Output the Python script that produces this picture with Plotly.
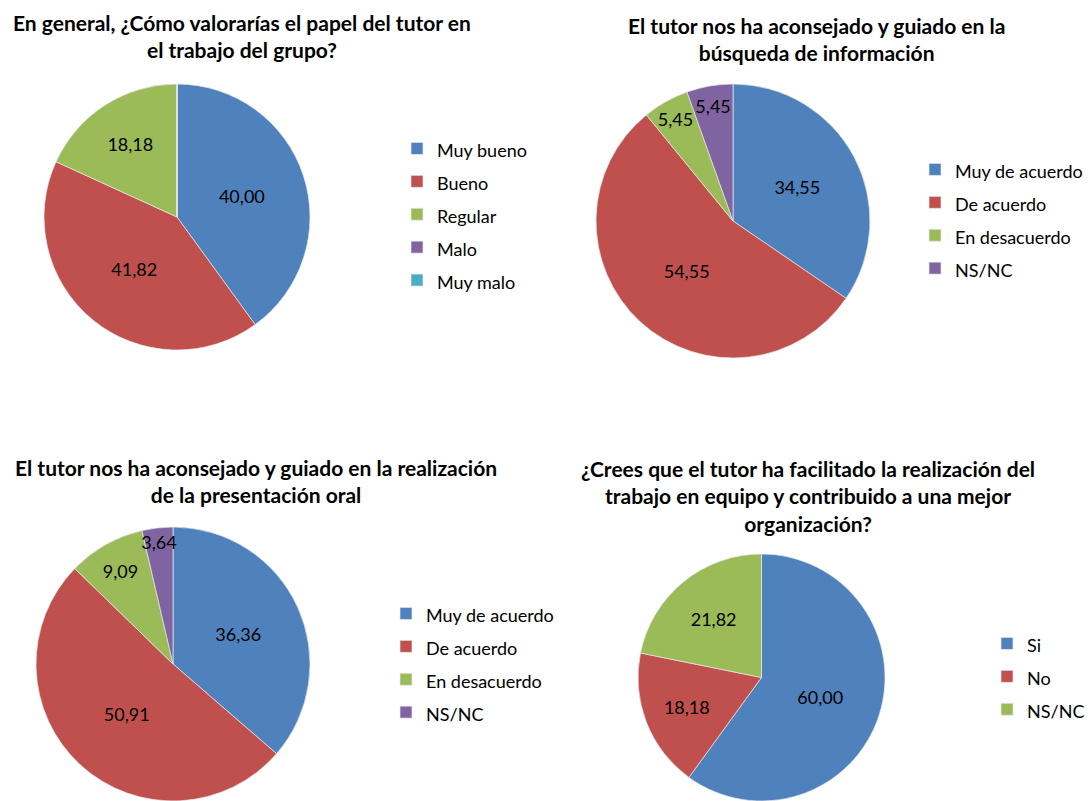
import plotly.graph_objects as go

W, H = 1088, 801

colors = ["#4F81BD", "#C0504D", "#9BBB59", "#8064A2", "#4BACC6"]

# Chart 1
title1 = "En general, ¿Cómo valorarías el papel del tutor en<br>el trabajo del grupo?"
labels1 = ["Muy bueno", "Bueno", "Regular", "Malo", "Muy malo"]
values1 = [40.00, 41.82, 18.18, 0, 0]

# Chart 2
title2 = "El tutor nos ha aconsejado y guiado en la<br>búsqueda de información"
labels2 = ["Muy de acuerdo", "De acuerdo", "En desacuerdo", "NS/NC"]
values2 = [34.55, 54.55, 5.45, 5.45]

# Chart 3
title3 = "El tutor nos ha aconsejado y guiado en la realización<br>de la presentación oral"
labels3 = ["Muy de acuerdo", "De acuerdo", "En desacuerdo", "NS/NC"]
values3 = [36.36, 50.91, 9.09, 3.64]

# Chart 4
title4 = "¿Crees que el tutor ha facilitado la realización del<br>trabajo en equipo y contribuido a una mejor<br>organización?"
labels4 = ["Si", "No", "NS/NC"]
values4 = [60.00, 18.18, 21.82]

FONT = "Lato"


def fmt(v):
    return "" if v == 0 else f"{v:.2f}".replace(".", ",")


def px(x):
    return x / W


def py(y):
    return 1 - y / H


def px_dom(x0, x1, y0, y1):
    return dict(x=[px(x0), px(x1)], y=[max(0, py(y1)), min(1, py(y0))])


charts = [
    (labels1, values1, px_dom(44, 310, 84, 350), "legend"),
    (labels2, values2, px_dom(596, 870, 84, 358), "legend2"),
    (labels3, values3, px_dom(33.5, 312.5, 527, 806), "legend3"),
    (labels4, values4, px_dom(636, 887, 554, 805), "legend4"),
]

fig = go.Figure()
for k, (labels, values, dom, leg) in enumerate(charts):
    # unique legend keys per chart (pie legends merge identical labels)
    shown = [f"<span style='font-size:18px;z-index:{k}'>{l}</span>" for l in labels]
    fig.add_trace(go.Pie(
        labels=shown,
        values=values,
        text=[fmt(v) for v in values],
        textinfo="text",
        textposition="inside",
        insidetextorientation="horizontal",
        textfont=dict(family=FONT, size=18, color="#000000"),
        marker=dict(colors=colors[:len(labels)], line=dict(color="#e8e8e8", width=0.7)),
        sort=False,
        direction="clockwise",
        rotation=0,
        domain=dom,
        legend=leg,
        hoverinfo="label+value",
    ))


def leg(x_ref, y_ref):
    return dict(
        x=px(x_ref), y=py(y_ref), xanchor="left", yanchor="top",
        font=dict(family=FONT, size=23, color="#000000"),
        bgcolor="rgba(0,0,0,0)", itemclick=False, itemdoubleclick=False,
    )


titles = [
    (title1, 242, 8),
    (title2, 816, 11),
    (title3, 256, 453),
    (title4, 808, 454),
]
annotations = []
for t, cx, ty in titles:
    annotations.append(dict(
        text=t, x=px(cx), y=py(ty), xref="paper", yref="paper",
        xanchor="center", yanchor="top", showarrow=False,
        font=dict(family=FONT, size=21, color="#000000", weight="bold"),
        align="center",
    ))

fig.update_layout(
    width=W, height=H,
    autosize=False,
    margin=dict(l=0, r=0, t=0, b=0, autoexpand=False),
    paper_bgcolor="white",
    plot_bgcolor="white",
    font=dict(family=FONT, size=16, color="#000000"),
    annotations=annotations,
    uniformtext=dict(mode="show", minsize=18),
    legend=leg(397, 127),
    legend2=leg(915, 148),
    legend3=leg(386, 592),
    legend4=leg(987, 622),
)

fig.write_html(
    "out.html",
    config={"responsive": False, "displayModeBar": False},
    post_script="document.body.style.margin='0';document.body.style.overflow='hidden';",
)
